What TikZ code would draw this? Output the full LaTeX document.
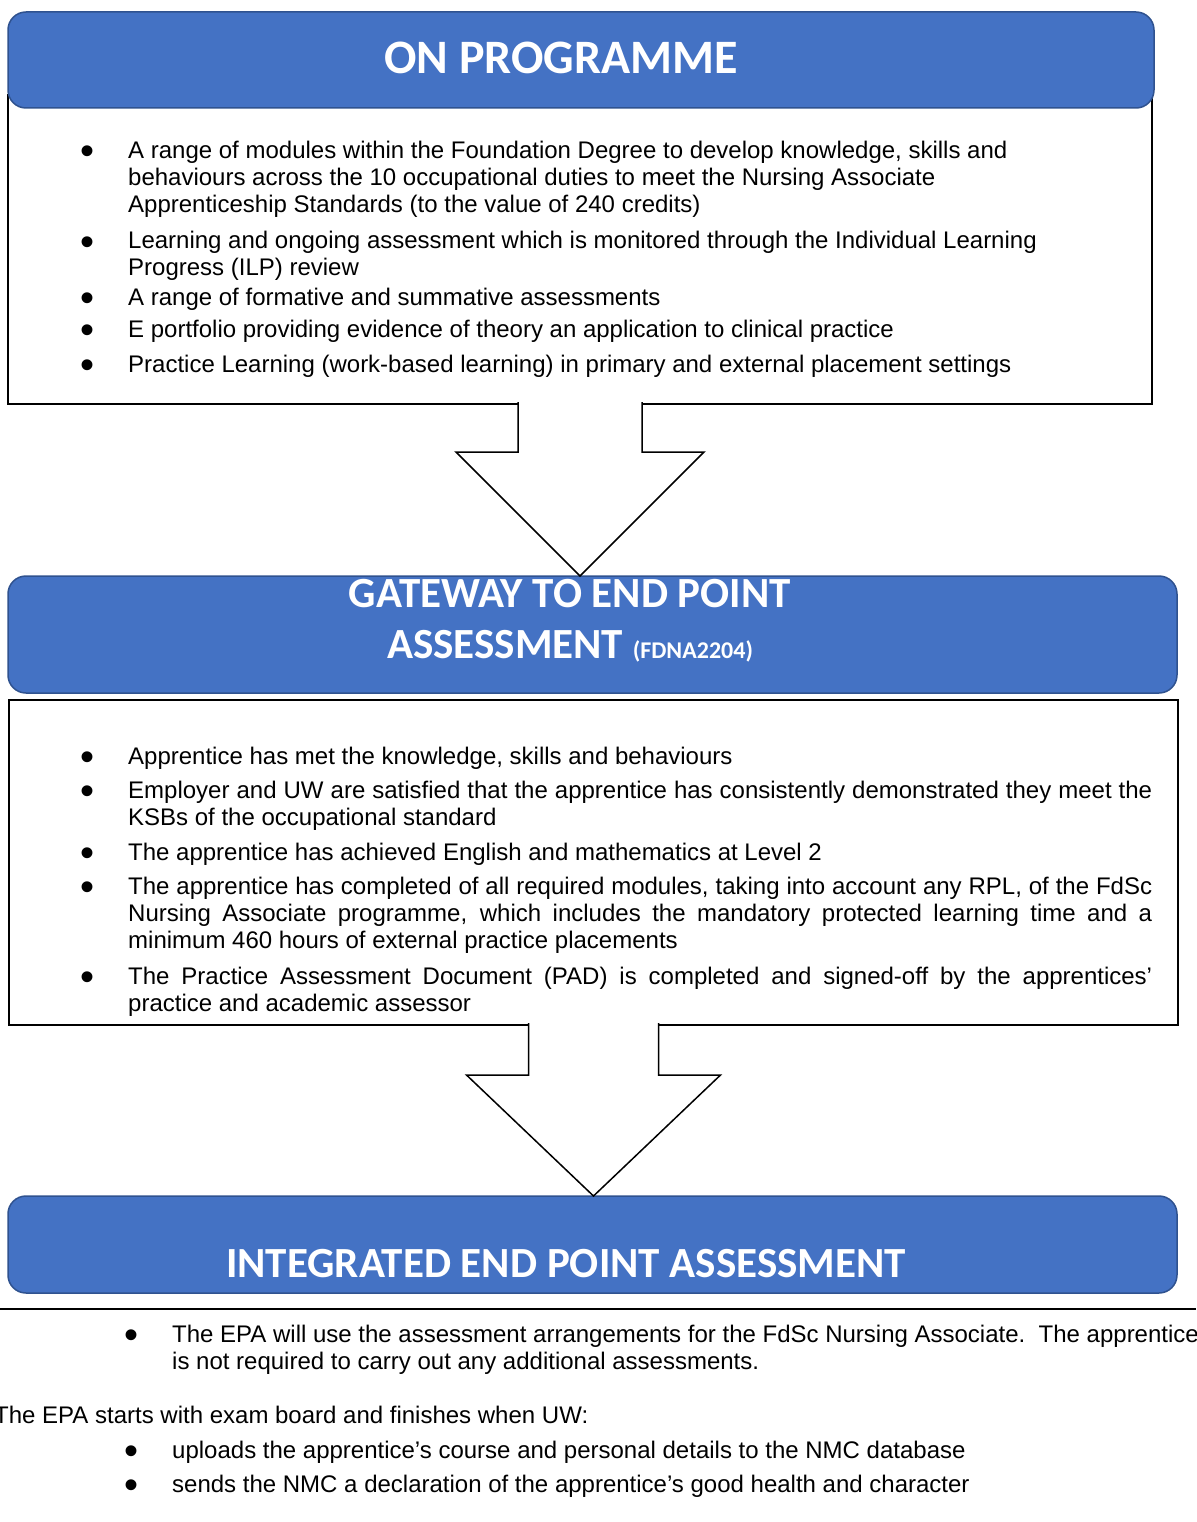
\documentclass[tikz,border=0pt]{standalone}
\usepackage{fontspec}
\setmainfont{Liberation Sans}
\newfontfamily\headfont{Carlito}
\usetikzlibrary{calc}
\definecolor{headblue}{HTML}{4472C4}
\definecolor{headedge}{HTML}{2F528F}
\newcommand{\bul}{\makebox[48pt][l]{\raisebox{-6pt}{\fontsize{40}{40}\selectfont •}}}
\newcommand{\ragitem}[1]{\bul\parbox[t]{1060pt}{\raggedright #1}}
\newcommand{\jusitem}[1]{\bul\parbox[t]{1024pt}{#1}}
\tikzset{
  head/.style={draw=headedge, line width=1.5pt, fill=headblue, rounded corners=18pt, inner sep=0pt, outer sep=0pt, anchor=north west},
  body/.style={draw=black, line width=2pt, fill=white, inner sep=0pt, outer sep=0pt, anchor=north west},
  title/.style={text=white, font=\headfont\bfseries\fontsize{43}{51}\selectfont, inner sep=0pt, align=center, anchor=base},
  point/.style={anchor=base west, inner sep=0pt, font=\fontsize{24}{27}\selectfont},
  blockarrow/.style={draw=black, line width=1.5pt, fill=white, line join=miter},
}
\begin{document}
\begin{tikzpicture}[x=1pt, y=-1pt]
\useasboundingbox (0,0) rectangle (1196,1522);
\node[body, minimum width=1144pt, minimum height=309pt] (onbody) at (8,95) {};
\node[head, minimum width=1146pt, minimum height=96pt] (onhead) at (8,12) {};
\node[title, font=\headfont\bfseries\fontsize{48}{51}\selectfont] (ontitle) at (561,74) {ON PROGRAMME};
\node[point] (on1) at (80,159) {\ragitem{A range of modules within the Foundation Degree to develop knowledge, skills and\\ behaviours across the 10 occupational duties to meet the Nursing Associate\\ Apprenticeship Standards (to the value of 240 credits)}};
\node[point] (on2) at (80,249) {\ragitem{Learning and ongoing assessment which is monitored through the Individual Learning\\ Progress (ILP) review}};
\node[point] (on3) at (80,305) {\ragitem{A range of formative and summative assessments}};
\node[point] (on4) at (80,337) {\ragitem{E portfolio providing evidence of theory an application to clinical practice}};
\node[point] (on5) at (80,372) {\ragitem{Practice Learning (work-based learning) in primary and external placement settings}};

\node[head, minimum width=1169pt, minimum height=117pt] (gatehead) at (8,576) {};
\node[title] (gatetitle) at (570,658) {GATEWAY TO END POINT\\ASSESSMENT {\fontsize{24}{24}\selectfont (FDNA2204)}};
\node[body, minimum width=1169pt, minimum height=325pt] (gatebody) at (9,700) {};
\node[point] (gate1) at (80,764) {\ragitem{Apprentice has met the knowledge, skills and behaviours}};
\node[point] (gate2) at (80,798) {\jusitem{Employer and UW are satisfied that the apprentice has consistently demonstrated they meet the\linebreak KSBs of the occupational standard}};
\node[point] (gate3) at (80,860) {\ragitem{The apprentice has achieved English and mathematics at Level 2}};
\node[point] (gate4) at (80,894) {\jusitem{The apprentice has completed of all required modules, taking into account any RPL, of the FdSc\linebreak Nursing Associate programme, which includes the mandatory protected learning time and a\linebreak minimum 460 hours of external practice placements}};
\node[point] (gate5) at (80,984) {\jusitem{The Practice Assessment Document (PAD) is completed and signed-off by the apprentices’\linebreak practice and academic assessor}};

\node[head, minimum width=1169pt, minimum height=97pt] (iepahead) at (8,1196) {};
\node[title] (iepatitle) at (566,1277) {INTEGRATED END POINT ASSESSMENT};

\filldraw[blockarrow] ($(onbody.south)+(-62,-2)$) -- ($(onbody.south)+(-62,48)$) -- ($(onbody.south)+(-124,48)$) -- (onbody.south |- gatehead.north) -- ($(onbody.south)+(124,48)$) -- ($(onbody.south)+(62,48)$) -- ($(onbody.south)+(62,-2)$);
\filldraw[blockarrow] ($(gatebody.south)+(-65,-2)$) -- ($(gatebody.south)+(-65,50)$) -- ($(gatebody.south)+(-127,50)$) -- (gatebody.south |- iepahead.north) -- ($(gatebody.south)+(127,50)$) -- ($(gatebody.south)+(65,50)$) -- ($(gatebody.south)+(65,-2)$);

\draw[line width=2.5pt] (0,1309) -- (1196,1309);
\node[point] (epa1) at (124,1342) {\makebox[48pt][l]{\raisebox{-6pt}{\fontsize{40}{40}\selectfont •}}\parbox[t]{1030pt}{\raggedright The EPA will use the assessment arrangements for the FdSc Nursing Associate.\ \ The apprentice\\ is not required to carry out any additional assessments.}};
\node[point] (epastart) at (-6,1423) {The EPA starts with exam board and finishes when UW:};
\node[point] (epa2) at (124,1458) {\makebox[48pt][l]{\raisebox{-6pt}{\fontsize{40}{40}\selectfont •}}uploads the apprentice’s course and personal details to the NMC database};
\node[point] (epa3) at (124,1492) {\makebox[48pt][l]{\raisebox{-6pt}{\fontsize{40}{40}\selectfont •}}sends the NMC a declaration of the apprentice’s good health and character};
\end{tikzpicture}
\end{document}
